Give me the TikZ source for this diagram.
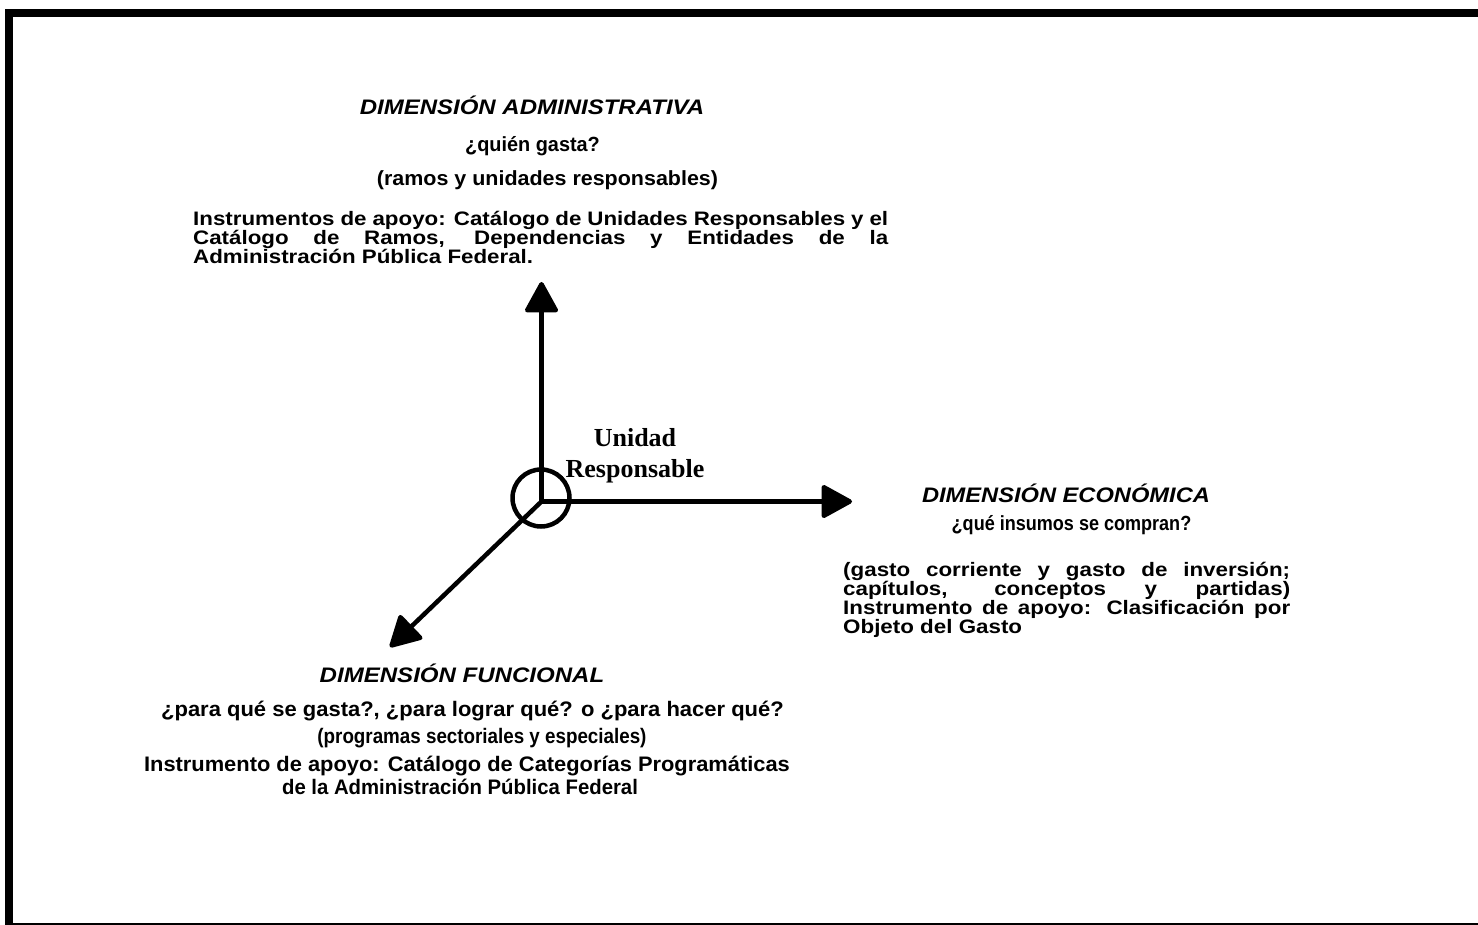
\documentclass[tikz,border=0pt]{standalone}
\usepackage{fontspec}
\usepackage{graphicx}
\setmainfont{Liberation Sans}
\newfontfamily\serifbf{Liberation Serif}
\usetikzlibrary{arrows.meta}

\newcommand\hs[2]{\scalebox{#1}[1]{#2}}
\newcommand\jfit[3]{\pgfmathsetlengthmacro\jw{#2/#1}\scalebox{#1}[1]{\makebox[\jw][s]{#3}}}

\tikzset{
  txt/.style={inner sep=0pt, anchor=base, font=\fontsize{20.5}{22}\selectfont\bfseries},
  blk/.style={inner sep=0pt, anchor=base west, font=\fontsize{19.5}{21}\selectfont\bfseries},
  fun/.style={inner sep=0pt, anchor=base, font=\fontsize{21}{23}\selectfont\bfseries},
  head/.style={inner sep=0pt, anchor=base, font=\fontsize{21}{23}\selectfont\bfseries\itshape},
  axis/.style={line width=4.5pt, -{Triangle[length=33pt,width=35pt,round]}},
  ringstyle/.style={circle, draw, line width=4.5pt, minimum size=57pt, inner sep=0pt},
  unit/.style={inner sep=0pt, align=center, font=\fontsize{26}{31}\selectfont\serifbf\bfseries},
}

\begin{document}
\begin{tikzpicture}[x=1pt,y=-1pt]
\useasboundingbox (0,0) rectangle (1478,925);
% frame
\fill (5,9) rectangle (1478,17);
\fill (5,9) rectangle (13,925);
\fill (13,923) rectangle (1478,925);

% axes
\coordinate (O) at (541.5,501.5);
\coordinate (up) at (541.5,282);
\coordinate (rt) at (852,501.5);
\coordinate (dl) at (390,647);
\draw[axis] (O) -- (up);
\draw[axis] (O) -- (rt);
\draw[axis] (O) -- (dl);
\node[ringstyle] (ring) at (541,498) {};
\node[unit, anchor=base] (unidad) at (635,446) {Unidad};
\node[unit, anchor=base] (resp) at (635,477) {Responsable};

% administrative
\node[head] (admh) at (532,115) {\hs{1.143}{DIMENSIÓN ADMINISTRATIVA}};
\node[txt] (admq) at (532.5,152) {\hs{0.97}{¿quién gasta?}};
\node[txt] (admr) at (547.5,186) {\hs{1.047}{(ramos y unidades responsables)}};
\node[blk] (admi1) at (193,226) {\jfit{1.145}{695pt}{Instrumentos de apoyo: Catálogo de Unidades Responsables y el}};
\node[blk] (admi2) at (193,245) {\jfit{1.145}{695pt}{Catálogo de Ramos, Dependencias y Entidades de la}};
\node[blk] (admi3) at (193,264) {\hs{1.145}{Administración Pública Federal.}};

% economic
\node[head] (ecoh) at (1066,502) {\hs{1.127}{DIMENSIÓN ECONÓMICA}};
\node[txt] (ecoq) at (1071.5,530) {\hs{0.88}{¿qué insumos se compran?}};
\node[blk] (eco1) at (843,576) {\jfit{1.147}{447pt}{(gasto corriente y gasto de inversión;}};
\node[blk] (eco2) at (843,595) {\jfit{1.147}{447pt}{capítulos, conceptos y partidas)}};
\node[blk] (eco3) at (843,614) {\jfit{1.147}{447pt}{Instrumento de apoyo: Clasificación por}};
\node[blk] (eco4) at (843,633) {\hs{1.147}{Objeto del Gasto}};

% functional
\node[head] (funh) at (462,682) {\hs{1.145}{DIMENSIÓN FUNCIONAL}};
\node[fun] (funq) at (472.5,716) {\hs{1.047}{¿para qué se gasta?, ¿para lograr qué? o ¿para hacer qué?}};
\node[fun] (funp) at (482,743) {\hs{0.895}{(programas sectoriales y especiales)}};
\node[fun] (funi) at (467,771) {\hs{1.041}{Instrumento de apoyo: Catálogo de Categorías Programáticas}};
\node[fun] (fund) at (460,794) {\hs{0.968}{de la Administración Pública Federal}};
\end{tikzpicture}
\end{document}
